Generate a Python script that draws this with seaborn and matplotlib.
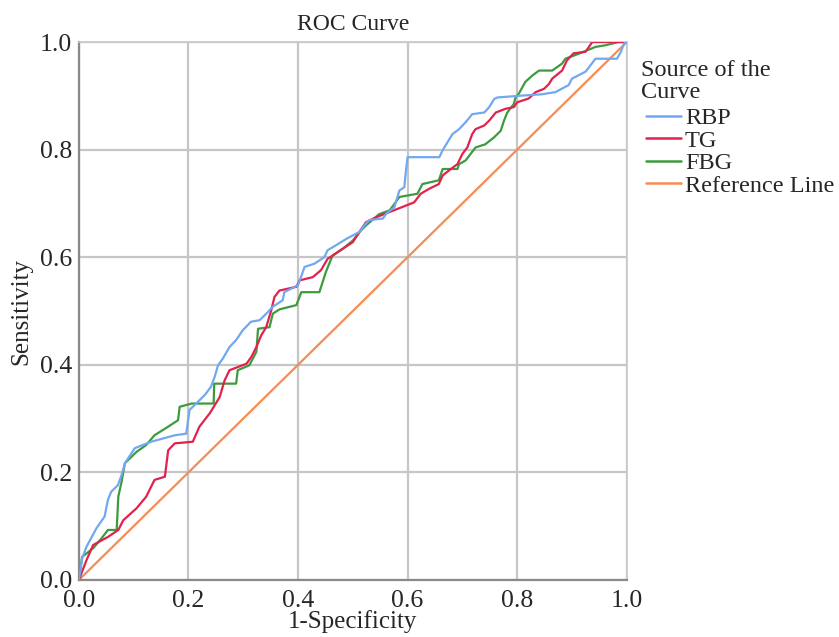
import matplotlib
matplotlib.use("Agg")
import matplotlib.pyplot as plt
import seaborn as sns
import pandas as pd
from matplotlib.lines import Line2D

# ---- data ----
series_names = ["RBP", "TG", "FBG", "Reference Line"]

rbp_fpr = [0, 0.006, 0.014, 0.032, 0.047, 0.053, 0.059, 0.071, 0.078, 0.084,
           0.102, 0.132, 0.175, 0.196, 0.202, 0.230, 0.241, 0.248, 0.254, 0.263,
           0.275, 0.287, 0.299, 0.314, 0.330, 0.342, 0.354, 0.372, 0.375, 0.400,
           0.412, 0.430, 0.448, 0.454, 0.469, 0.488, 0.512, 0.521, 0.530, 0.555,
           0.561, 0.576, 0.585, 0.594, 0.597, 0.600, 0.658, 0.664, 0.673, 0.682,
           0.694, 0.706, 0.718, 0.740, 0.749, 0.758, 0.764, 0.803, 0.846, 0.870,
           0.894, 0.900, 0.925, 0.943, 0.982, 0.989, 0.995, 1.0]
rbp_tpr = [0, 0.040, 0.062, 0.096, 0.118, 0.149, 0.164, 0.176, 0.195, 0.217,
           0.245, 0.257, 0.269, 0.272, 0.316, 0.344, 0.359, 0.378, 0.399, 0.412,
           0.433, 0.446, 0.464, 0.480, 0.483, 0.495, 0.508, 0.520, 0.535, 0.548,
           0.582, 0.588, 0.600, 0.613, 0.622, 0.634, 0.647, 0.659, 0.669, 0.672,
           0.681, 0.693, 0.724, 0.730, 0.761, 0.786, 0.786, 0.799, 0.814, 0.829,
           0.838, 0.851, 0.866, 0.869, 0.879, 0.894, 0.897, 0.900, 0.903, 0.907,
           0.920, 0.932, 0.945, 0.969, 0.969, 0.981, 0.997, 1.0]

tg_fpr = [0, 0.014, 0.026, 0.053, 0.072, 0.081, 0.105, 0.123, 0.138, 0.157,
          0.163, 0.175, 0.208, 0.220, 0.239, 0.257, 0.266, 0.275, 0.306, 0.315,
          0.324, 0.333, 0.342, 0.351, 0.357, 0.366, 0.397, 0.403, 0.427, 0.442,
          0.454, 0.463, 0.482, 0.500, 0.512, 0.524, 0.542, 0.567, 0.597, 0.612,
          0.624, 0.639, 0.657, 0.664, 0.679, 0.691, 0.700, 0.709, 0.718, 0.724,
          0.740, 0.749, 0.761, 0.779, 0.794, 0.800, 0.821, 0.834, 0.849, 0.858,
          0.864, 0.882, 0.891, 0.903, 0.925, 0.937, 1.0]
tg_tpr = [0, 0.037, 0.065, 0.080, 0.093, 0.111, 0.133, 0.155, 0.186, 0.192,
          0.241, 0.254, 0.257, 0.285, 0.310, 0.340, 0.371, 0.390, 0.402, 0.415,
          0.433, 0.455, 0.470, 0.501, 0.526, 0.538, 0.545, 0.557, 0.563, 0.576,
          0.597, 0.603, 0.616, 0.628, 0.647, 0.665, 0.674, 0.684, 0.696, 0.702,
          0.718, 0.727, 0.736, 0.752, 0.764, 0.773, 0.792, 0.804, 0.829, 0.838,
          0.845, 0.854, 0.869, 0.876, 0.879, 0.888, 0.895, 0.907, 0.913, 0.922,
          0.932, 0.947, 0.966, 0.979, 0.982, 1.0, 1.0]

fbg_fpr = [0, 0.006, 0.026, 0.041, 0.053, 0.069, 0.072, 0.078, 0.084, 0.105,
           0.123, 0.138, 0.163, 0.181, 0.184, 0.206, 0.246, 0.247, 0.287, 0.290,
           0.311, 0.324, 0.327, 0.348, 0.354, 0.366, 0.397, 0.406, 0.439, 0.451,
           0.463, 0.482, 0.500, 0.515, 0.524, 0.548, 0.567, 0.576, 0.585, 0.618,
           0.627, 0.657, 0.664, 0.691, 0.694, 0.706, 0.715, 0.724, 0.742, 0.758,
           0.770, 0.776, 0.782, 0.794, 0.797, 0.803, 0.815, 0.828, 0.840, 0.864,
           0.882, 0.888, 0.904, 0.919, 0.943, 0.961, 0.985, 1.0]
fbg_tpr = [0, 0.043, 0.059, 0.077, 0.093, 0.093, 0.155, 0.183, 0.217, 0.238,
           0.251, 0.269, 0.285, 0.297, 0.322, 0.328, 0.328, 0.365, 0.365, 0.390,
           0.399, 0.424, 0.467, 0.470, 0.495, 0.503, 0.511, 0.535, 0.535, 0.573,
           0.603, 0.616, 0.631, 0.650, 0.659, 0.680, 0.687, 0.699, 0.712, 0.718,
           0.736, 0.743, 0.764, 0.764, 0.773, 0.780, 0.792, 0.804, 0.810, 0.823,
           0.835, 0.854, 0.869, 0.885, 0.897, 0.904, 0.926, 0.938, 0.947, 0.947,
           0.960, 0.969, 0.975, 0.981, 0.991, 0.994, 1.0, 1.0]

ref_fpr = [0.0, 1.0]
ref_tpr = [0.0, 1.0]

tick_values = [0.0, 0.2, 0.4, 0.6, 0.8, 1.0]
tick_labels = ["0.0", "0.2", "0.4", "0.6", "0.8", "1.0"]

colors = {"RBP": "#72A8F0", "TG": "#E2214F", "FBG": "#3D9B3D",
          "Reference Line": "#F68C55"}

# ---- build long table ----
frames = []
for name, fx, fy in [("RBP", rbp_fpr, rbp_tpr), ("TG", tg_fpr, tg_tpr),
                     ("FBG", fbg_fpr, fbg_tpr),
                     ("Reference Line", ref_fpr, ref_tpr)]:
    frames.append(pd.DataFrame({"fpr": fx, "tpr": fy, "Source": name}))
df = pd.concat(frames, ignore_index=True)

sns.set_theme(style="white")
plt.rcParams["font.family"] = ["Liberation Serif", "DejaVu Serif"]

fig = plt.figure(figsize=(8.39, 6.37), dpi=100)
ax = fig.add_axes([0.094, 0.0895, 0.653, 0.8445])

# grid first
for t in tick_values:
    ax.axvline(t, color="#c6c6c6", lw=1.6, zorder=0)
    ax.axhline(t, color="#c6c6c6", lw=1.6, zorder=0)

sns.lineplot(data=df[df["Source"] == "Reference Line"], x="fpr", y="tpr",
             color=colors["Reference Line"], lw=1.6, sort=False,
             estimator=None, ax=ax, legend=False, zorder=2)
for name in ["FBG", "TG", "RBP"]:
    sns.lineplot(data=df[df["Source"] == name], x="fpr", y="tpr",
                 color=colors[name], lw=1.6, sort=False, estimator=None,
                 ax=ax, legend=False, zorder=3)

ax.set_xlim(0, 1)
ax.set_ylim(0, 1)
ax.set_xticks(tick_values)
ax.set_yticks(tick_values)
ax.set_xticklabels(tick_labels, fontsize=18.5)
ax.set_yticklabels(tick_labels, fontsize=18.5)
ax.tick_params(axis="x", length=0, pad=7)
ax.tick_params(axis="y", length=0, pad=5)
ax.set_xlabel("1-Specificity", fontsize=18, labelpad=-1)
ax.set_ylabel("Sensitivity", fontsize=18, labelpad=5)
ax.set_title("ROC Curve", fontsize=17, pad=9)

for side in ["top", "right"]:
    ax.spines[side].set_color("#c8c8c8")
    ax.spines[side].set_linewidth(1.2)
for side in ["left", "bottom"]:
    ax.spines[side].set_color("#8a8a8a")
    ax.spines[side].set_linewidth(1.6)

# legend title and entries
fig.text(641 / 839, 1 - 60 / 637, "Source of the\nCurve", fontsize=17.5,
         ha="left", va="top", linespacing=1.05)
handles = [Line2D([0], [0], color=colors[n], lw=1.8) for n in series_names]
leg = fig.legend(handles, series_names, loc="upper left",
                 bbox_to_anchor=(646 / 839, 1 - 107 / 637),
                 frameon=False, fontsize=17.5,
                 handlelength=1.45, handletextpad=0.15, labelspacing=0.02,
                 borderpad=0.0, borderaxespad=0.0)

fig.savefig("out.png", dpi=100)
